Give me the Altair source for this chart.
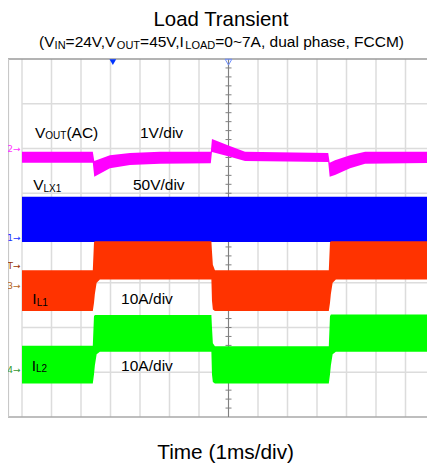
import altair as alt
import pandas as pd

# ---------------- data (time in ms = horizontal divisions, level in vertical divisions) -------------
vout_t  = [0, 2.40, 2.45, 2.98, 3.66, 4.68, 6.40, 6.44, 7.02, 7.56, 10.38, 10.43, 10.61, 11.12, 11.63, 14]
vout_hi = [5.93, 5.93, 5.72, 5.85, 5.90, 5.93, 5.93, 6.21, 6.06, 5.93, 5.90, 5.68, 5.74, 5.85, 5.93, 5.93]
vout_lo = [5.68, 5.68, 5.37, 5.56, 5.63, 5.66, 5.67, 5.92, 5.82, 5.72, 5.70, 5.37, 5.41, 5.56, 5.66, 5.68]

vlx_t  = [0, 14]
vlx_hi = [4.92, 4.92]
vlx_lo = [3.91, 3.91]

il_t   = [0, 2.40, 2.44, 2.47, 2.53, 2.64, 6.42, 6.44, 6.47, 6.54, 10.40, 10.44, 10.47, 10.53, 10.64, 14]
il1_hi = [3.28, 3.28, 3.90, 3.93, 3.93, 3.93, 3.93, 3.70, 3.40, 3.28, 3.28, 3.90, 3.93, 3.93, 3.93, 3.93]
il1_lo = [2.37, 2.37, 2.55, 2.75, 3.00, 3.07, 3.07, 2.60, 2.40, 2.37, 2.37, 2.55, 2.75, 3.00, 3.07, 3.07]
il2_hi = [1.59, 1.59, 2.25, 2.28, 2.28, 2.28, 2.28, 2.00, 1.65, 1.58, 1.58, 2.25, 2.29, 2.29, 2.29, 2.29]
il2_lo = [0.75, 0.75, 0.95, 1.15, 1.40, 1.46, 1.46, 0.95, 0.78, 0.75, 0.75, 0.95, 1.15, 1.40, 1.46, 1.46]

grid_t = list(range(0, 14))
grid_v = list(range(1, 8))
center_ticks_v = [round(0.2 * i, 1) for i in range(1, 40)]

ch_text  = ["2\u2192", "1\u2192", "T\u2192", "3\u2192", "4\u2192"]
ch_v     = [5.99, 4.00, 3.37, 2.93, 1.05]
ch_color = ["#ff33ff", "#2233ff", "#993300", "#b5651d", "#339933"]

cursor_t = [3.08]
trigger_t = [7.0]

title_text = "Load Transient"
subtitle_pieces = [("(V", 0), ("IN", 1), ("=24V,V", 0), ("OUT", 1), ("=45V,I", 0), ("LOAD", 1),
                   ("=0~7A, dual phase, FCCM)", 0)]
xlabel_text = "Time (1ms/div)"
# (pieces, left t, baseline v)
plot_labels = [
    ([("V", 0), ("OUT", 1), ("(AC)", 0)], 0.44, 6.235),
    ([("1V/div", 0)], 4.00, 6.235),
    ([("V", 0), ("LX1", 1)], 0.38, 5.07),
    ([("50V/div", 0)], 3.76, 5.07),
    ([("I", 0), ("L1", 1)], 0.35, 2.525),
    ([("10A/div", 0)], 3.36, 2.525),
    ([("I", 0), ("L2", 1)], 0.33, 1.028),
    ([("10A/div", 0)], 3.36, 1.028),
]

# ---------------- layout helpers ----------------
W, H = 419, 358
PX_T = 29.5
T_MIN = -14 / PX_T
T_MAX = T_MIN + W / PX_T
PX_V = H / 8.0

AFM = {'(': 333, ')': 333, 'V': 667, 'I': 278, 'N': 722, 'O': 778, 'U': 722, 'T': 611, 'L': 556,
       'A': 667, 'D': 722, 'X': 667, '=': 584, '~': 584, ',': 278, ' ': 278, '/': 278, 'd': 556,
       'u': 556, 'a': 556, 'l': 222, 'p': 556, 'h': 556, 's': 500, 'e': 556, 'F': 611, 'C': 722,
       'M': 833, 'i': 222, 'v': 500, 'm': 833, 'o': 556, 'r': 333, 'n': 556, 't': 278}


def tw(s, size):
    return sum(AFM.get(c, 556) for c in s) * size / 1000.0


rows = []


def add_pieces(pieces, t0, v0, main, sub, drop, center=False):
    total = sum(tw(p, sub if s else main) for p, s in pieces)
    x_px = -total / 2 if center else 0.0
    for p, s in pieces:
        size = sub if s else main
        rows.append({"t": t0 + x_px / PX_T, "v": v0 - (drop / PX_V if s else 0), "txt": p, "size": size})
        x_px += tw(p, size)


add_pieces([(title_text, 0)], 6.763, 8 + 33 / PX_V, 20.4, 20.4, 0, center=True)
add_pieces(subtitle_pieces, 6.763, 8 + 12 / PX_V, 15.5, 11, 2, center=True)
add_pieces([(xlabel_text, 0)], 6.915, -42 / PX_V, 20.8, 20.8, 0, center=True)
for pieces, t0, v0 in plot_labels:
    add_pieces(pieces, t0, v0, 15.5, 10, 1.5)

text_df = pd.DataFrame(rows)

xs = alt.Scale(domain=[T_MIN, T_MAX], nice=False, zero=False)
ys = alt.Scale(domain=[0, 8], nice=False, zero=False)


def vrules(tvals, color, width):
    return alt.Chart(pd.DataFrame({"t": tvals})).mark_rule(color=color, strokeWidth=width).encode(
        x=alt.X("t:Q", scale=xs, axis=None)
    )


def hrules(vvals, t0, t1, color, width):
    df = pd.DataFrame({"v": vvals, "a": [t0] * len(vvals), "b": [t1] * len(vvals)})
    return alt.Chart(df).mark_rule(color=color, strokeWidth=width).encode(
        x=alt.X("a:Q", scale=xs, axis=None), x2="b:Q",
        y=alt.Y("v:Q", scale=ys, axis=None),
    )


vgrid = vrules(grid_t, "#dcdcdc", 1.5)
hgrid = hrules(grid_v, 0, T_MAX, "#dcdcdc", 1.5)
frame_top = hrules([8], T_MIN, T_MAX, "#9a9a9a", 1.5)
frame_bot = hrules([0], T_MIN, T_MAX, "#a8a8a8", 1.5)
frame_left = vrules([T_MIN + 0.5 / PX_T], "#c8c8c8", 1.2)
center_line = vrules([7], "#808080", 1)
center_ticks = hrules(center_ticks_v, 7 - 3 / PX_T, 7 + 3 / PX_T, "#808080", 1)


def band(t, hi, lo, color):
    df = pd.DataFrame({"t": t, "hi": hi, "lo": lo})
    return alt.Chart(df).mark_area(color=color, opacity=1, interpolate="linear").encode(
        x=alt.X("t:Q", scale=xs, axis=None),
        y=alt.Y("hi:Q", scale=ys, axis=None),
        y2="lo:Q",
    )


vout = band(vout_t, vout_hi, vout_lo, "#ff00ff")
vlx = band(vlx_t, vlx_hi, vlx_lo, "#0000ff")
il1 = band(il_t, il1_hi, il1_lo, "#ff3300")
il2 = band(il_t, il2_hi, il2_lo, "#00ff00")

texts = alt.Chart(text_df).mark_text(align="left", baseline="alphabetic", font="Liberation Sans",
                                     color="black").encode(
    x=alt.X("t:Q", scale=xs, axis=None),
    y=alt.Y("v:Q", scale=ys, axis=None),
    text="txt:N",
    size=alt.Size("size:Q", scale=None, legend=None),
)

ch_df = pd.DataFrame({"txt": ch_text, "v": ch_v, "c": ch_color, "t": [-0.05] * len(ch_text)})
ch_marks = alt.Chart(ch_df).mark_text(align="right", baseline="middle", fontSize=9,
                                      font="DejaVu Sans").encode(
    x=alt.X("t:Q", scale=xs, axis=None),
    y=alt.Y("v:Q", scale=ys, axis=None),
    text="txt:N",
    color=alt.Color("c:N", scale=None, legend=None),
)

mk_v = 7.93
cursor = alt.Chart(pd.DataFrame({"t": cursor_t, "v": [mk_v] * len(cursor_t)})).mark_point(
    shape="triangle-down", filled=True, color="#0033ff", size=45, opacity=1
).encode(x=alt.X("t:Q", scale=xs, axis=None), y=alt.Y("v:Q", scale=ys, axis=None))

trigger = alt.Chart(pd.DataFrame({"t": trigger_t, "v": [mk_v] * len(trigger_t)})).mark_point(
    shape="triangle-down", filled=False, color="#6f8fff", size=45, strokeWidth=1, opacity=1
).encode(x=alt.X("t:Q", scale=xs, axis=None), y=alt.Y("v:Q", scale=ys, axis=None))

chart = alt.layer(
    vgrid, hgrid, frame_top, frame_bot, frame_left, center_line, center_ticks,
    vout, vlx, il1, il2, texts, ch_marks, cursor, trigger
).properties(
    width=W, height=H,
    padding={"left": 0, "top": 51, "right": 0, "bottom": 49},
    autosize=alt.AutoSizeParams(type="none"),
).configure_view(strokeWidth=0)

chart.save("out.html", embed_options={"renderer": "svg", "actions": False})
